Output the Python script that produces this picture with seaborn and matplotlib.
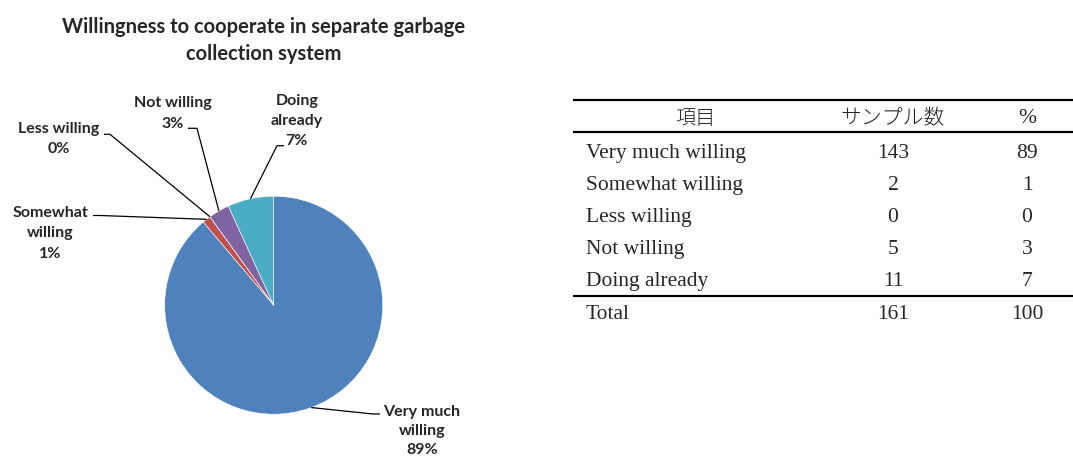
import numpy as np
import matplotlib
matplotlib.use("Agg")
import matplotlib.pyplot as plt
import seaborn as sns

# ---------------- data ----------------
categories = ["Very much willing", "Somewhat willing", "Less willing", "Not willing", "Doing already"]
pie_labels = ["Very much\nwilling", "Somewhat\nwilling", "Less willing", "Not willing", "Doing\nalready"]
counts = [143, 2, 0, 5, 11]
percents = [89, 1, 0, 3, 7]
total_label = "Total"
total_count = 161
total_percent = 100
header = ["項目", "サンプル数", "%"]
title = "Willingness to cooperate in separate garbage\ncollection system"
colors = ["#4F81BD", "#C0504D", "#9BBB59", "#8064A2", "#4BACC6"]

# ---------------- layout (pixels, origin top-left) ----------------
W, H = 1073, 461
pie_cx, pie_cy, pie_r = 273.7, 305.2, 109.0
label_pos = [(421.8, 431.0), (50.0, 233.5), (58.7, 139.0), (172.5, 113.5), (296.7, 121.0)]
label_spacing = [1.45, 1.56, 1.56, 1.56, 1.56]
elbow = [((373, 414.0), (380, 414.0)),
         ((100, 215.5), (93, 215.5)),
         ((110, 134.3), (104, 134.3)),
         ((197, 128.3), (188, 128.3)),
         ((277, 145.7), (284, 145.7))]

sns.set_theme(style="white")
plt.rcParams["font.family"] = ["Lato", "DejaVu Sans"]

fig = plt.figure(figsize=(W / 100, H / 100), dpi=100)

lim = 1.25
box = 2 * lim * pie_r
ax = fig.add_axes([(pie_cx - box / 2) / W, (H - pie_cy - box / 2) / H, box / W, box / H])
wedges, _ = ax.pie(counts, colors=colors, startangle=90, counterclock=False,
                   wedgeprops=dict(edgecolor="white", linewidth=0.4))
ax.set_xlim(-lim, lim)
ax.set_ylim(-lim, lim)
ax.set_aspect("equal")
ax.axis("off")


def px2data(px, py):
    return (px - pie_cx) / pie_r, (pie_cy - py) / pie_r


for i, w in enumerate(wedges):
    mid = np.deg2rad((w.theta1 + w.theta2) / 2)
    wx, wy = np.cos(mid), np.sin(mid)
    (e1x, e1y), (e2x, e2y) = elbow[i]
    a = px2data(e1x, e1y)
    b = px2data(e2x, e2y)
    ax.plot([wx, a[0], b[0]], [wy, a[1], b[1]], color="black", lw=0.9, clip_on=False,
            solid_capstyle="butt")
    tx, ty = px2data(*label_pos[i])
    ax.text(tx, ty, f"{pie_labels[i]}\n{percents[i]}%", ha="center", va="center",
            fontsize=11.5, fontweight="bold", linespacing=label_spacing[i], clip_on=False)

fig.text(264 / W, 1 - 40.5 / H, title, ha="center", va="center", fontsize=14.5,
         fontweight="bold", linespacing=1.45, family=["Lato", "DejaVu Sans"])

# ---------------- table ----------------
tax = fig.add_axes([0, 0, 1, 1])
tax.set_xlim(0, W)
tax.set_ylim(H, 0)
tax.axis("off")
tax.patch.set_alpha(0)

serif = ["Liberation Serif", "Noto Sans CJK JP"]
cjk = ["Noto Sans CJK JP", "Liberation Serif"]
x_left, x_right = 573, W
col1_left, col1_center, col2_center, col3_center = 586, 695, 893, 1027
rule_top, rule_head, rule_bottom = 100, 132.5, 295.5
header_y, row_y0, row_step, total_y = 118, 153, 32, 314
fs = 15.5

for y in (rule_top, rule_head, rule_bottom):
    tax.plot([x_left, x_right], [y, y], color="black", lw=1.6, solid_capstyle="butt")

tax.text(col1_center, header_y, header[0], ha="center", va="center", fontsize=14.5,
         family=cjk, color="#222222", fontweight="light")
tax.text(col2_center, header_y, header[1], ha="center", va="center", fontsize=15,
         family=cjk, color="#222222", fontweight="light")
tax.text(col3_center, header_y, header[2], ha="center", va="center", fontsize=fs,
         family=serif)

for i, (cat, c, p) in enumerate(zip(categories, counts, percents)):
    y = row_y0 + i * row_step
    tax.text(col1_left, y, cat, ha="left", va="center", fontsize=fs, family=serif)
    tax.text(col2_center, y, str(c), ha="center", va="center", fontsize=fs, family=serif)
    tax.text(col3_center, y, str(p), ha="center", va="center", fontsize=fs, family=serif)

tax.text(col1_left, total_y, total_label, ha="left", va="center", fontsize=fs, family=serif)
tax.text(col2_center, total_y, str(total_count), ha="center", va="center", fontsize=fs, family=serif)
tax.text(col3_center, total_y, str(total_percent), ha="center", va="center", fontsize=fs, family=serif)

fig.savefig("out.png", dpi=100)
